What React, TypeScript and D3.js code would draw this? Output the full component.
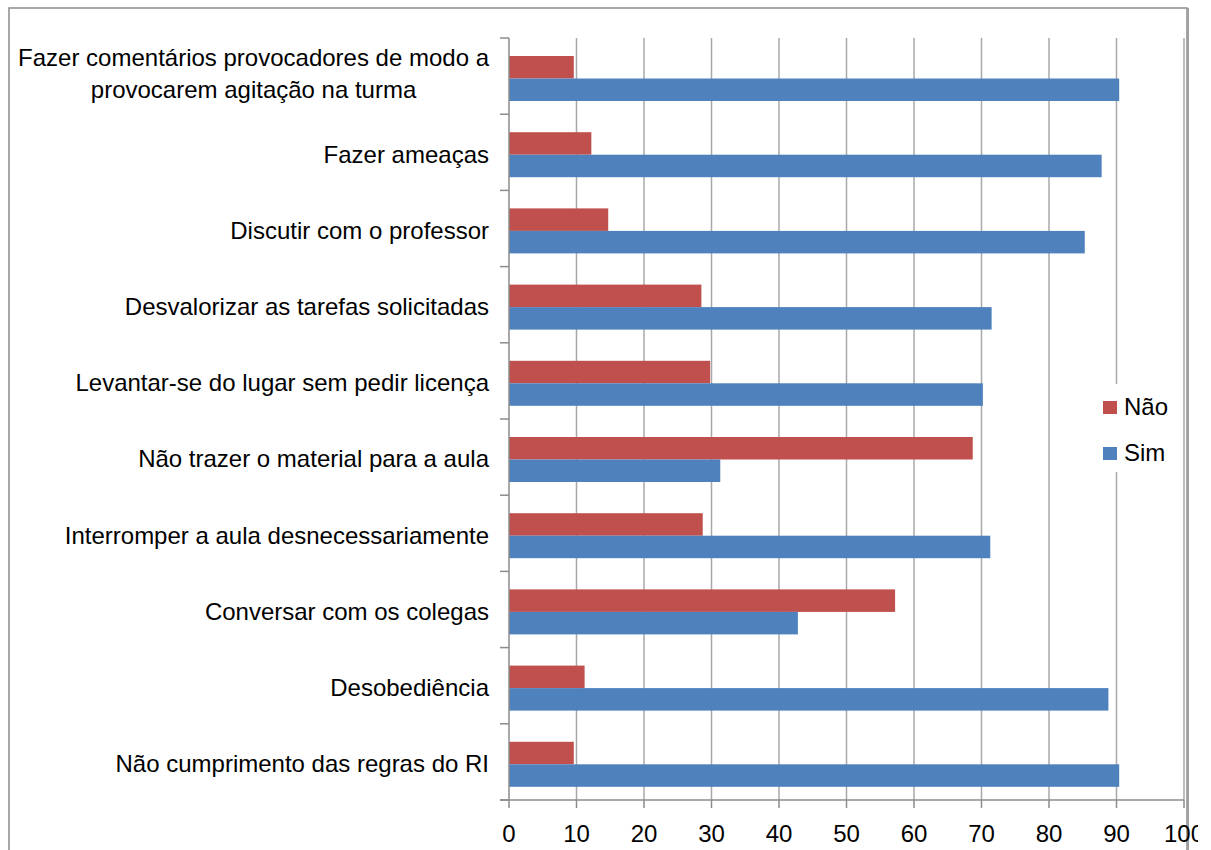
import React, { useEffect, useRef } from 'react';
import * as d3 from 'd3';

// categories top to bottom
const categories = [
  'Fazer comentários provocadores de modo a provocarem agitação na turma',
  'Fazer ameaças',
  'Discutir com o professor',
  'Desvalorizar as tarefas solicitadas',
  'Levantar-se do lugar sem pedir licença',
  'Não trazer o material para a aula',
  'Interromper a aula desnecessariamente',
  'Conversar com os colegas',
  'Desobediência',
  'Não cumprimento das regras do RI',
];
const series = ['Não', 'Sim'];
const naoValues = [9.6, 12.2, 14.7, 28.5, 29.8, 68.7, 28.7, 57.2, 11.2, 9.6];
const simValues = [90.4, 87.8, 85.3, 71.5, 70.2, 31.3, 71.3, 42.8, 88.8, 90.4];
const xTicks = [0, 10, 20, 30, 40, 50, 60, 70, 80, 90, 100];
const colors = ['#C0504D', '#4F81BD'];

const W = 1211;
const H = 850;
const FONT = '"Liberation Sans", Arial, sans-serif';

export default function App() {
  const ref = useRef<SVGSVGElement>(null);

  useEffect(() => {
    const svg = d3.select(ref.current);
    svg.selectAll('*').remove();

    const x = d3.scaleLinear().domain([0, 100]).range([509, 1184]);
    const y = d3.scaleBand().domain(categories).range([38, 800]);
    const inner = d3.scaleBand().domain(series).range([18, 63]);
    const values = [naoValues, simValues];

    svg.append('defs').append('clipPath').attr('id', 'clipR')
      .append('rect').attr('x', 0).attr('y', 0).attr('width', 1198).attr('height', H);

    // outer border
    svg.append('rect')
      .attr('x', 9).attr('y', 8).attr('width', 1178).attr('height', 900)
      .attr('fill', 'white').attr('stroke', '#8c8c8c').attr('stroke-width', 1.5);
    svg.append('line')
      .attr('x1', 1188).attr('x2', 1188).attr('y1', 8).attr('y2', H)
      .attr('stroke', '#a0a0a0').attr('stroke-width', 2);

    // gridlines
    svg.append('g').selectAll('line')
      .data(xTicks.slice(1))
      .enter().append('line')
      .attr('x1', d => x(d)).attr('x2', d => x(d))
      .attr('y1', 38).attr('y2', 800)
      .attr('stroke', '#a8a8a8').attr('stroke-width', 1.5);

    // bars
    series.forEach((s, si) => {
      svg.append('g').selectAll('rect')
        .data(categories)
        .enter().append('rect')
        .attr('x', x(0))
        .attr('y', c => (y(c) as number) + (inner(s) as number))
        .attr('width', (c, i) => x(values[si][i]) - x(0))
        .attr('height', inner.bandwidth())
        .attr('fill', colors[si]);
    });

    // axes
    svg.append('line')
      .attr('x1', x(0)).attr('x2', x(0)).attr('y1', 38).attr('y2', 800)
      .attr('stroke', '#8c8c8c').attr('stroke-width', 1.5);
    svg.append('line')
      .attr('x1', 500).attr('x2', x(100)).attr('y1', 800).attr('y2', 800)
      .attr('stroke', '#8c8c8c').attr('stroke-width', 1.5);

    const bounds = categories.map(c => y(c) as number).concat([800]);
    svg.append('g').selectAll('line')
      .data(bounds)
      .enter().append('line')
      .attr('x1', 500).attr('x2', x(0))
      .attr('y1', d => d).attr('y2', d => d)
      .attr('stroke', '#8c8c8c').attr('stroke-width', 1.5);

    svg.append('g').selectAll('line')
      .data(xTicks)
      .enter().append('line')
      .attr('x1', d => x(d)).attr('x2', d => x(d))
      .attr('y1', 800).attr('y2', 808)
      .attr('stroke', '#8c8c8c').attr('stroke-width', 1.5);

    svg.append('g').attr('clip-path', 'url(#clipR)').selectAll('text')
      .data(xTicks)
      .enter().append('text')
      .attr('x', d => x(d)).attr('y', 842)
      .attr('text-anchor', 'middle')
      .attr('font-family', FONT).attr('font-size', 24)
      .attr('fill', '#000')
      .text(d => d);

    // category labels, wrapped when too wide
    const maxW = 485;
    categories.forEach(c => {
      const cy = (y(c) as number) + 40;
      const t = svg.append('text')
        .attr('font-family', FONT).attr('font-size', 24).attr('fill', '#000');
      const words = c.split(' ');
      const lines: string[] = [];
      let cur: string[] = [];
      const probe = t.append('tspan');
      words.forEach(w => {
        const test = cur.concat([w]).join(' ');
        probe.text(test);
        if ((probe.node() as SVGTSpanElement).getComputedTextLength() > maxW && cur.length) {
          lines.push(cur.join(' '));
          cur = [w];
        } else {
          cur.push(w);
        }
      });
      lines.push(cur.join(' '));
      probe.remove();

      if (lines.length === 1) {
        t.attr('x', 489).attr('y', cy).attr('dy', '0.35em')
          .attr('text-anchor', 'end').text(lines[0]);
      } else {
        let widest = 0;
        lines.forEach(l => {
          const p = t.append('tspan').text(l);
          widest = Math.max(widest, (p.node() as SVGTSpanElement).getComputedTextLength());
          p.remove();
        });
        const cx = 489 - widest / 2;
        t.attr('text-anchor', 'middle');
        lines.forEach((l, k) => {
          t.append('tspan')
            .attr('x', cx)
            .attr('y', cy - 4 + (k - (lines.length - 1) / 2) * 32)
            .attr('dy', '0.35em')
            .text(l);
        });
      }
    });

    // legend
    const lg = svg.append('g');
    lg.append('rect')
      .attr('x', 1092).attr('y', 384).attr('width', 88).attr('height', 88)
      .attr('fill', 'white');
    series.forEach((s, i) => {
      lg.append('rect')
        .attr('x', 1103).attr('y', 401 + i * 46)
        .attr('width', 14).attr('height', 13)
        .attr('fill', colors[i]);
      lg.append('text')
        .attr('x', 1124).attr('y', 407 + i * 46).attr('dy', '0.35em')
        .attr('font-family', FONT).attr('font-size', 24).attr('fill', '#000')
        .text(s);
    });
  }, []);

  return (
    <svg
      ref={ref}
      width={W}
      height={H}
      style={{ position: 'absolute', left: 0, top: 0, background: 'white' }}
    />
  );
}
